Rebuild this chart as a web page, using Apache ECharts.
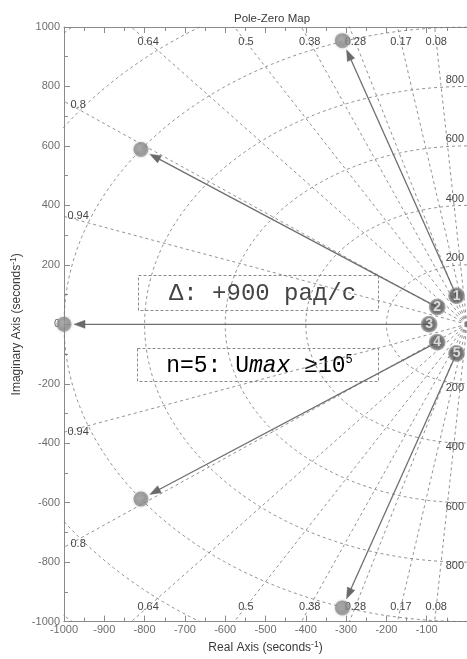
<!DOCTYPE html>
<html>
<head>
<meta charset="utf-8">
<script src="https://cdn.jsdelivr.net/npm/echarts@6/dist/echarts.min.js"></script>
<style>
  html, body { margin: 0; padding: 0; background: #ffffff; }
  #chart { width: 467px; height: 659px; }
</style>
</head>
<body>
<div id="chart"></div>
<script>
// Fifth-order pole set near 100 rad/s, moved out to the 1000 rad/s circle
const poleIds = ['1', '2', '3', '4', '5'];
const startRe = [-26, -74, -94, -74, -26];
const startIm = [96, 58, 0, -60, -98];
const endRe = [-309, -809, -1000, -809, -309];
const endIm = [954, 588, 0, -588, -954];

// s-plane grid: constant damping rays and constant natural-frequency circles
const dampingRatios = [0.08, 0.17, 0.28, 0.38, 0.5, 0.64, 0.8, 0.94];
const naturalFreqs = [200, 400, 600, 800, 1000, 1200, 1400];
const freqLabels = [200, 400, 600, 800];

// axis ranges and tick steps
const realRange = [-1000, 0];
const imagRange = [-1000, 1000];
const realStep = 100;
const imagStep = 200;

const GRID_COLOR = '#767676';
const AXIS_COLOR = '#8a8a8a';
const LABEL_COLOR = '#6e6e6e';
const SANS = '"Liberation Sans", Arial, sans-serif';
const MONO = '"Liberation Mono", "Courier New", monospace';

const chart = echarts.init(document.getElementById('chart'), null, { renderer: 'canvas' });

const dashStyle = { color: GRID_COLOR, width: 0.8, type: [3, 3] };
const gridSeries = [];

// natural-frequency circles (left half plane)
naturalFreqs.forEach(function (r) {
  const pts = [];
  for (let a = 90; a <= 270; a += 1) {
    const t = a * Math.PI / 180;
    pts.push([r * Math.cos(t), r * Math.sin(t)]);
  }
  gridSeries.push({
    type: 'line', data: pts, showSymbol: false, silent: true, clip: true,
    lineStyle: dashStyle, z: 1, animation: false
  });
});

// constant damping rays from the origin
dampingRatios.forEach(function (z) {
  const w = Math.sqrt(1 - z * z);
  [1, -1].forEach(function (s) {
    gridSeries.push({
      type: 'line', data: [[0, 0], [-z * 3000, s * w * 3000]],
      showSymbol: false, silent: true, clip: true,
      lineStyle: dashStyle, z: 1, animation: false
    });
  });
});

// grid annotations: damping ratios along the border, frequencies near the jw axis
const gridText = [];
dampingRatios.forEach(function (z) {
  const slope = Math.sqrt(1 - z * z) / z;
  [1, -1].forEach(function (s) {
    if (z <= 0.7) {
      gridText.push({ x: -950 / slope, y: s * 950, text: String(z), dy: 0 });
    } else {
      gridText.push({ x: -965, y: s * 965 * slope, text: String(z), dy: -s * 4 });
    }
  });
});
freqLabels.forEach(function (r) {
  gridText.push({ x: -30, y: r + 22, text: String(r), dy: 0 });
  gridText.push({ x: -30, y: -(r + 13), text: String(r), dy: 0 });
});

const plainNumber = function (v) { return String(v); };

const option = {
  animation: false,
  backgroundColor: '#ffffff',
  title: {
    text: 'Pole-Zero Map',
    left: 267, top: 8, textAlign: 'center',
    textStyle: { fontFamily: SANS, fontSize: 11.5, fontWeight: 'normal', color: '#3a3a3a' }
  },
  grid: { left: 64, right: -1, top: 27, bottom: 34, containLabel: false },
  xAxis: [{
    type: 'value', min: realRange[0], max: realRange[1], interval: realStep,
    position: 'bottom',
    name: '{a|Real Axis (seconds}{s|-1}{a|)}',
    nameLocation: 'middle', nameGap: 17,
    nameTextStyle: {
      rich: {
        a: { fontFamily: SANS, fontSize: 12, color: '#3a3a3a' },
        s: { fontFamily: SANS, fontSize: 8.5, color: '#3a3a3a', verticalAlign: 'top', padding: [0, 0, 6, 0] }
      }
    },
    axisLine: { show: true, onZero: false, lineStyle: { color: AXIS_COLOR, width: 1 } },
    axisTick: { show: true, inside: true, length: 6, lineStyle: { color: AXIS_COLOR } },
    minorTick: { show: true, splitNumber: 2, length: 4, lineStyle: { color: AXIS_COLOR } },
    axisLabel: { show: true, showMaxLabel: false, margin: 3, color: LABEL_COLOR, fontFamily: SANS, fontSize: 11, formatter: plainNumber },
    splitLine: { show: false }, minorSplitLine: { show: false }
  }, {
    type: 'value', min: realRange[0], max: realRange[1], interval: realStep,
    position: 'top',
    axisLine: { show: true, onZero: false, lineStyle: { color: AXIS_COLOR, width: 1 } },
    axisTick: { show: true, inside: true, length: 6, lineStyle: { color: AXIS_COLOR } },
    minorTick: { show: true, splitNumber: 2, length: 4, lineStyle: { color: AXIS_COLOR } },
    axisLabel: { show: false },
    splitLine: { show: false }
  }],
  yAxis: [{
    type: 'value', min: imagRange[0], max: imagRange[1], interval: imagStep,
    position: 'left',
    name: '{a|Imaginary Axis (seconds}{s|-1}{a|)}',
    nameLocation: 'middle', nameGap: 40, nameRotate: 90, nameMoveOverlap: false,
    nameTextStyle: {
      rich: {
        a: { fontFamily: SANS, fontSize: 12, color: '#3a3a3a' },
        s: { fontFamily: SANS, fontSize: 8.5, color: '#3a3a3a', verticalAlign: 'top', padding: [0, 0, 6, 0] }
      }
    },
    axisLine: { show: true, onZero: false, lineStyle: { color: AXIS_COLOR, width: 1 } },
    axisTick: { show: true, inside: true, length: 6, lineStyle: { color: AXIS_COLOR } },
    minorTick: { show: true, splitNumber: 2, length: 4, lineStyle: { color: AXIS_COLOR } },
    axisLabel: { show: true, margin: 4, color: LABEL_COLOR, fontFamily: SANS, fontSize: 11, formatter: plainNumber },
    splitLine: { show: false }, minorSplitLine: { show: false }
  }],
  series: gridSeries.concat([
    {
      // damping / frequency grid labels
      type: 'custom', silent: true, z: 2,
      data: gridText.map(function (g) { return [g.x, g.y]; }),
      renderItem: function (params, api) {
        const g = gridText[params.dataIndex];
        const p = api.coord([api.value(0), api.value(1)]);
        return {
          type: 'text', x: p[0], y: p[1] + g.dy,
          style: {
            text: g.text, fill: '#454545', font: '11px ' + SANS,
            textAlign: 'center', textVerticalAlign: 'middle'
          }
        };
      }
    },
    {
      // arrows from the base poles to the shifted poles
      type: 'custom', silent: true, z: 3,
      data: poleIds.map(function (id, i) { return [startRe[i], startIm[i], endRe[i], endIm[i]]; }),
      renderItem: function (params, api) {
        const p0 = api.coord([api.value(0), api.value(1)]);
        const p1 = api.coord([api.value(2), api.value(3)]);
        const dx = p1[0] - p0[0], dy = p1[1] - p0[1];
        const len = Math.sqrt(dx * dx + dy * dy);
        const ux = dx / len, uy = dy / len;
        const tip = [p1[0] - ux * 10, p1[1] - uy * 10];
        const base = [tip[0] - ux * 11, tip[1] - uy * 11];
        const hw = 4;
        return {
          type: 'group',
          children: [{
            type: 'line',
            shape: { x1: p0[0], y1: p0[1], x2: base[0] + ux * 2, y2: base[1] + uy * 2 },
            style: { stroke: '#6f6f6f', lineWidth: 1.3 }
          }, {
            type: 'polygon',
            shape: { points: [tip, [base[0] - uy * hw, base[1] + ux * hw], [base[0] + uy * hw, base[1] - ux * hw]] },
            style: { fill: '#6a6a6a', stroke: '#6a6a6a', lineWidth: 0.5 }
          }]
        };
      }
    },
    {
      // shifted poles
      type: 'scatter', silent: true, z: 4,
      data: endRe.map(function (x, i) { return [x, endIm[i]]; }),
      symbol: 'circle', symbolSize: 15,
      itemStyle: {
        color: {
          type: 'radial', x: 0.42, y: 0.42, r: 0.6,
          colorStops: [{ offset: 0, color: '#a4a4a4' }, { offset: 0.7, color: '#8a8a8a' }, { offset: 1, color: '#9c9c9c' }]
        },
        shadowBlur: 3, shadowColor: 'rgba(0,0,0,0.25)'
      }
    },
    {
      // numbered base poles
      type: 'scatter', silent: true, z: 5,
      data: startRe.map(function (x, i) { return { value: [x, startIm[i]], name: poleIds[i] }; }),
      symbol: 'circle', symbolSize: 17,
      itemStyle: {
        color: {
          type: 'radial', x: 0.5, y: 0.5, r: 0.5,
          colorStops: [{ offset: 0, color: '#4a4a4a' }, { offset: 0.72, color: '#565656' }, { offset: 1, color: '#a8a8a8' }]
        }
      },
      label: {
        show: true, position: 'inside', formatter: '{b}',
        color: '#f2f2f2', fontFamily: SANS, fontSize: 14, fontWeight: 'bold'
      }
    }
  ]),
  graphic: [{
    type: 'group', left: 136, top: 273, z: 10,
    children: [{
      type: 'rect', shape: { x: 0, y: 0, width: 240, height: 35 },
      style: { fill: 'none', stroke: '#8a8a8a', lineWidth: 1, lineDash: [3, 2] }
    }, {
      type: 'text', x: 124, y: 18,
      style: {
        text: 'Δ: +900 рад/с', fill: '#444444', font: '24px ' + MONO,
        textAlign: 'center', textVerticalAlign: 'middle'
      }
    }]
  }, {
    type: 'group', left: 135, top: 346, z: 10,
    children: [{
      type: 'rect', shape: { x: 0, y: 0, width: 241, height: 33 },
      style: { fill: 'none', stroke: '#8a8a8a', lineWidth: 1, lineDash: [3, 2] }
    }, {
      type: 'text', x: 122, y: 17,
      style: {
        text: '{n|n=5: U}{i|max}{n| ≥10}{s|5}',
        textAlign: 'center', textVerticalAlign: 'middle',
        rich: {
          n: { fontFamily: MONO, fontSize: 23, color: '#444444' },
          i: { fontFamily: MONO, fontSize: 23, fontStyle: 'italic', color: '#444444' },
          s: { fontFamily: MONO, fontSize: 12, color: '#444444', verticalAlign: 'top' }
        }
      }
    }]
  }]
};

chart.setOption(option);
</script>
</body>
</html>
